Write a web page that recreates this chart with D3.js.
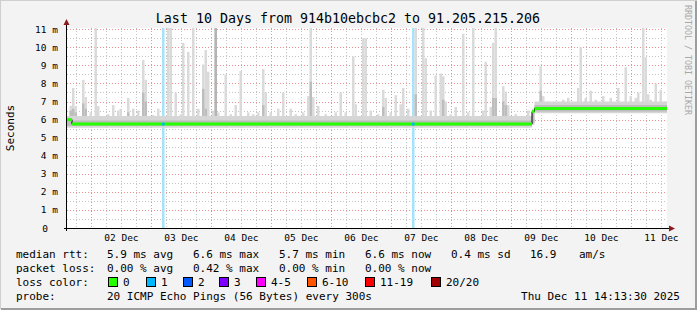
<!DOCTYPE html>
<html>
<head>
<meta charset="utf-8">
<script src="https://cdn.jsdelivr.net/npm/d3@7"></script>
<style>
  body { margin: 0; background: #f3f3f3; }
  text { font-family: "DejaVu Sans Mono", monospace; }
</style>
</head>
<body>
<script>
//==========================================================================//
//  DATA
//==========================================================================//

// time window (1 hour per slot, 240 slots)
var startTime = Date.UTC(2025, 11, 1, 14, 13, 30);
var endTime = Date.UTC(2025, 11, 11, 14, 13, 30);

// smoke spikes: [slot, max ms, darker part up to (0 = none)]
var spikes = [
  [1, 6.76, 6.5], [2, 7.75, 6.6], [3, 6.75, 6.4], [6, 8.2, 6.9], [7, 7.25, 6.6],
  [9, 6.4, 0], [11, 11.1, 0], [12, 6.75, 0], [14, 6.2, 0], [16, 6.3, 0],
  [18, 6.8, 0], [20, 6.5, 0], [21, 6.6, 0], [24, 7.2, 6.4], [26, 6.6, 0],
  [28, 6.5, 0], [30, 9.3, 7.5], [31, 8.2, 7.0], [34, 6.25, 0], [36, 6.6, 0],
  [40, 11.1, 0], [41, 11.1, 0], [43, 7.5, 0], [45, 6.3, 0], [46, 10.25, 0],
  [48, 9.75, 0], [50, 11.1, 0], [52, 6.6, 0], [54, 9.05, 7.7], [55, 9.85, 6.6],
  [56, 8.65, 0], [58, 6.5, 0], [59, 11.1, 11.1], [60, 6.4, 0], [63, 8.5, 0],
  [65, 6.3, 0], [67, 6.8, 0], [69, 8.7, 0], [72, 6.4, 0], [74, 6.3, 0],
  [76, 6.4, 0], [78, 8.8, 6.8], [79, 7.5, 0], [81, 6.4, 0], [84, 6.6, 0],
  [86, 7.5, 0], [89, 6.6, 0], [91, 6.3, 0], [94, 6.4, 0], [96, 7.3, 0],
  [97, 11.1, 8.1], [98, 7.25, 0], [100, 6.75, 0], [103, 6.3, 0], [107, 6.4, 0],
  [109, 7.5, 0], [111, 6.4, 0], [114, 9.5, 0], [115, 6.85, 0], [118, 10.5, 0],
  [119, 10.5, 0], [121, 6.5, 0], [124, 6.3, 0], [126, 7.65, 6.7], [127, 7.2, 0],
  [129, 6.4, 0], [131, 7.35, 0], [133, 6.85, 0], [134, 7.75, 0], [136, 6.6, 0],
  [139, 11.1, 7.4], [142, 11.1, 0], [143, 9.4, 0], [145, 6.5, 0], [147, 8.45, 0],
  [149, 8.55, 0], [150, 8.4, 7.1], [151, 7.0, 0], [153, 6.3, 0], [155, 6.7, 0],
  [158, 10.75, 0], [160, 6.4, 0], [162, 11.1, 0], [164, 6.1, 0], [166, 6.5, 0],
  [167, 9.2, 0], [169, 6.7, 0], [170, 10.25, 7.2], [171, 11.1, 7.2], [174, 7.85, 7.0],
  [175, 7.55, 6.8], [176, 6.8, 0], [179, 6.3, 0], [184, 6.5, 0], [189, 8.95, 7.6],
  [190, 7.3, 0], [192, 7.0, 0], [195, 7.0, 0], [198, 7.1, 0], [200, 7.2, 0],
  [204, 7.75, 0], [205, 10.0, 0], [207, 7.2, 7.0], [209, 7.6, 0], [211, 7.1, 0],
  [214, 7.3, 0], [217, 7.2, 0], [220, 7.75, 0], [223, 8.9, 0], [225, 7.3, 0],
  [227, 7.2, 0], [228, 7.5, 0], [230, 11.1, 0], [231, 9.45, 0], [232, 7.4, 0],
  [233, 7.1, 0], [235, 8.0, 0], [237, 7.65, 0], [239, 7.0, 0]
];

// smoke band around median: [from slot, to slot, lo, hi, dark lo, dark hi]
var bands = [
  [0, 186, 5.55, 6.2, 5.65, 5.95],
  [186, 187, 5.7, 6.6, 5.8, 6.5],
  [187, 240, 6.35, 7.0, 6.45, 6.8]
];

// median rtt steps: [from slot, to slot, ms]
var medians = [
  [0, 2, 6.0],
  [2, 186, 5.75],
  [186, 187, 6.45],
  [187, 240, 6.62]
];

// slots with 1/20 loss
var lossSlots = [38, 138];

// legend
var legendRows = [
  ["median rtt:", "5.9 ms avg", "6.6 ms max", "5.7 ms min", "6.6 ms now", "0.4 ms sd", "16.9", "am/s"],
  ["packet loss:", "0.00 % avg", "0.42 % max", "0.00 % min", "0.00 % now"]
];
var legendCols = [16, 107, 193, 279, 365, 451, 530, 579];
var lossLabels = ["0", "1", "2", "3", "4-5", "6-10", "11-19", "20/20"];
var lossColors = ["#26ff00", "#00b8ff", "#0059ff", "#7e00ff", "#ff00ff", "#ff5500", "#ff0000", "#a10000"];
var lossBoxX = [108, 146, 183, 219, 256, 307, 365, 431];

//==========================================================================//
//  SETUP
//==========================================================================//

var W = 697, H = 310;
var plot = {left: 67, right: 667, top: 28, bottom: 228};

var svg = d3.select("body")
    .append("svg")
    .attr("width", W)
    .attr("height", H);

// canvas + frame
svg.append("rect").attr("width", W).attr("height", H).attr("fill", "#f3f3f3");
svg.append("path").attr("d", "M0,309 V0 H697").attr("fill", "none").attr("stroke", "#cfcfcf").attr("stroke-width", 2);
svg.append("path").attr("d", "M1,309 H696 V1").attr("fill", "none").attr("stroke", "#9d9d9d").attr("stroke-width", 2);

var x = d3.scaleUtc()
    .domain([startTime, endTime])
    .range([plot.left, plot.right]);

var y = d3.scaleLinear()
    .domain([0, 11.07])
    .range([plot.bottom, plot.top]);

function slotX(s) { return x(startTime + s * 3600e3); }

// lower edge of the smoke for a slot (taken from the band it sits in)
function slotBase(s) {
    var b = bands.find(function(d) { return s >= d[0] && s < d[1]; });
    return b ? b[2] : 5.55;
}

// plot background
svg.append("rect")
    .attr("x", plot.left).attr("y", plot.top)
    .attr("width", plot.right - plot.left).attr("height", plot.bottom - plot.top)
    .attr("fill", "#ffffff");

//==========================================================================//
//  GRID
//==========================================================================//

var minorX = d3.utcHour.every(6).range(new Date(startTime), new Date(endTime));
var majorX = d3.utcDay.range(new Date(startTime), new Date(endTime));

svg.append("g").selectAll("line")
    .data(minorX)
    .join("line")
    .attr("x1", function(d) { return Math.round(x(d)) + 0.5; })
    .attr("x2", function(d) { return Math.round(x(d)) + 0.5; })
    .attr("y1", plot.top).attr("y2", plot.bottom)
    .attr("stroke", "#c4c4c4")
    .attr("stroke-dasharray", "1,2");

svg.append("g").selectAll("line")
    .data(y.ticks(22))
    .join("line")
    .attr("x1", plot.left).attr("x2", plot.right)
    .attr("y1", function(d) { return Math.round(y(d)) + 0.5; })
    .attr("y2", function(d) { return Math.round(y(d)) + 0.5; })
    .attr("stroke", "#c4c4c4")
    .attr("stroke-dasharray", "1,2");

svg.append("g").selectAll("line")
    .data(majorX)
    .join("line")
    .attr("x1", function(d) { return Math.round(x(d)) + 0.5; })
    .attr("x2", function(d) { return Math.round(x(d)) + 0.5; })
    .attr("y1", plot.top).attr("y2", plot.bottom)
    .attr("stroke", "#f09090")
    .attr("stroke-dasharray", "1,2");

svg.append("g").selectAll("line")
    .data(y.ticks(11))
    .join("line")
    .attr("x1", plot.left).attr("x2", plot.right)
    .attr("y1", function(d) { return Math.round(y(d)) + 0.5; })
    .attr("y2", function(d) { return Math.round(y(d)) + 0.5; })
    .attr("stroke", "#f09090")
    .attr("stroke-dasharray", "1,2");

//==========================================================================//
//  LOSS BACKGROUND + SMOKE
//==========================================================================//

svg.append("g").selectAll("rect")
    .data(lossSlots)
    .join("rect")
    .attr("x", function(d) { return slotX(d); })
    .attr("width", function(d) { return slotX(d + 1) - slotX(d); })
    .attr("y", plot.top)
    .attr("height", plot.bottom - plot.top)
    .attr("fill", "#a6e2fa");

// light part of spikes
svg.append("g").selectAll("rect")
    .data(spikes)
    .join("rect")
    .attr("x", function(d) { return slotX(d[0]); })
    .attr("width", function(d) { return slotX(d[0] + 1) - slotX(d[0]); })
    .attr("y", function(d) { return y(Math.min(d[1], 11.07)); })
    .attr("height", function(d) { return y(slotBase(d[0]) + 0.05) - y(Math.min(d[1], 11.07)); })
    .attr("fill", "#dadada");

// darker part of spikes
svg.append("g").selectAll("rect")
    .data(spikes.filter(function(d) { return d[2] > 0; }))
    .join("rect")
    .attr("x", function(d) { return slotX(d[0]); })
    .attr("width", function(d) { return slotX(d[0] + 1) - slotX(d[0]); })
    .attr("y", function(d) { return y(Math.min(d[2], 11.07)); })
    .attr("height", function(d) { return y(slotBase(d[0]) + 0.15) - y(Math.min(d[2], 11.07)); })
    .attr("fill", function(d) { return d[2] > 11 ? "#b4b4b4" : "#bdbdbd"; });

// band
svg.append("g").selectAll("rect")
    .data(bands)
    .join("rect")
    .attr("x", function(d) { return slotX(d[0]); })
    .attr("width", function(d) { return slotX(d[1]) - slotX(d[0]); })
    .attr("y", function(d) { return y(d[3]); })
    .attr("height", function(d) { return y(d[2]) - y(d[3]); })
    .attr("fill", "#d6d6d6");
svg.append("g").selectAll("rect")
    .data(bands)
    .join("rect")
    .attr("x", function(d) { return slotX(d[0]); })
    .attr("width", function(d) { return slotX(d[1]) - slotX(d[0]); })
    .attr("y", function(d) { return y(d[5]); })
    .attr("height", function(d) { return y(d[4]) - y(d[5]); })
    .attr("fill", "#bcbcbc");

//==========================================================================//
//  MEDIAN
//==========================================================================//

var medPts = [];
medians.forEach(function(m) {
    medPts.push([slotX(m[0]), y(m[2])]);
    medPts.push([slotX(m[1]), y(m[2])]);
});
svg.append("path")
    .attr("d", d3.line()(medPts))
    .attr("fill", "none")
    .attr("stroke", "#000")
    .attr("stroke-width", 1);

svg.append("g").selectAll("line")
    .data(medians)
    .join("line")
    .attr("x1", function(d) { return slotX(d[0]); })
    .attr("x2", function(d) { return slotX(d[1]); })
    .attr("y1", function(d) { return y(d[2]); })
    .attr("y2", function(d) { return y(d[2]); })
    .attr("stroke", "#26ff00")
    .attr("stroke-width", 3);

// loss coloured median pieces
svg.append("g").selectAll("line")
    .data(lossSlots)
    .join("line")
    .attr("x1", function(d) { return slotX(d); })
    .attr("x2", function(d) { return slotX(d + 1); })
    .attr("y1", y(5.75)).attr("y2", y(5.75))
    .attr("stroke", "#00b8ff")
    .attr("stroke-width", 3);

//==========================================================================//
//  AXES
//==========================================================================//

svg.append("line")
    .attr("x1", plot.left - 0.5).attr("x2", plot.left - 0.5)
    .attr("y1", plot.bottom + 3).attr("y2", plot.top - 4)
    .attr("stroke", "#000");
svg.append("line")
    .attr("x1", plot.left - 3).attr("x2", plot.right + 3)
    .attr("y1", plot.bottom + 0.5).attr("y2", plot.bottom + 0.5)
    .attr("stroke", "#000");
svg.append("path")
    .attr("d", "M" + (plot.left - 3.5) + "," + (plot.top - 3) + " L" + (plot.left + 2.5) + "," + (plot.top - 3) + " L" + (plot.left - 0.5) + "," + (plot.top - 9) + "Z")
    .attr("fill", "#8b1a1a");
svg.append("path")
    .attr("d", "M" + (plot.right + 2) + "," + (plot.bottom - 2.5) + " L" + (plot.right + 2) + "," + (plot.bottom + 3.5) + " L" + (plot.right + 8) + "," + (plot.bottom + 0.5) + "Z")
    .attr("fill", "#8b1a1a");

// y tick labels
svg.append("g").selectAll("text")
    .data(y.ticks(11))
    .join("text")
    .attr("x", function(d) { return d === 0 ? 48 : 58; })
    .attr("y", function(d) { return y(d) + 3.5; })
    .attr("text-anchor", "end")
    .attr("font-size", "9.5px")
    .attr("fill", "#000")
    .text(function(d) { return d === 0 ? "0" : d + " m"; });

// x tick labels at noon
var dayLabels = d3.utcDay.range(new Date(startTime), new Date(endTime)).map(function(d) {
    return d3.utcHour.offset(d, 12);
}).filter(function(d) { return +d < endTime; });

svg.append("g").selectAll("text")
    .data(dayLabels)
    .join("text")
    .attr("x", function(d) { return x(d); })
    .attr("y", 241)
    .attr("text-anchor", "middle")
    .attr("font-size", "9.5px")
    .attr("fill", "#000")
    .text(d3.utcFormat("%d %b"));

//==========================================================================//
//  TITLES
//==========================================================================//

svg.append("text")
    .attr("x", 348).attr("y", 23)
    .attr("text-anchor", "middle")
    .attr("font-size", "13.3px")
    .text("Last 10 Days from 914b10ebcbc2 to 91.205.215.206");

svg.append("text")
    .attr("transform", "translate(14,128) rotate(-90)")
    .attr("text-anchor", "middle")
    .attr("font-size", "11px")
    .text("Seconds");

svg.append("text")
    .attr("transform", "translate(685,5) rotate(90)")
    .attr("font-size", "8.3px")
    .attr("fill", "#a8a8a8")
    .text("RRDTOOL / TOBI OETIKER");

//==========================================================================//
//  LEGEND
//==========================================================================//

var rowY = [258, 272, 286, 300];

legendRows.forEach(function(row, r) {
    svg.append("g").selectAll("text")
        .data(row)
        .join("text")
        .attr("x", function(d, i) { return legendCols[i]; })
        .attr("y", rowY[r])
        .attr("font-size", "11px")
        .text(function(d) { return d; });
});

svg.append("text").attr("x", 16).attr("y", rowY[2]).attr("font-size", "11px").text("loss color:");
svg.append("g").selectAll("rect")
    .data(lossColors)
    .join("rect")
    .attr("x", function(d, i) { return lossBoxX[i] + 0.5; })
    .attr("y", rowY[2] - 8.5)
    .attr("width", 9).attr("height", 9)
    .attr("fill", function(d) { return d; })
    .attr("stroke", "#000");
svg.append("g").selectAll("text")
    .data(lossLabels)
    .join("text")
    .attr("x", function(d, i) { return lossBoxX[i] + 15; })
    .attr("y", rowY[2])
    .attr("font-size", "11px")
    .text(function(d) { return d; });

svg.append("text").attr("x", 16).attr("y", rowY[3]).attr("font-size", "11px").text("probe:");
svg.append("text").attr("x", 107).attr("y", rowY[3]).attr("font-size", "11px").text("20 ICMP Echo Pings (56 Bytes) every 300s");
svg.append("text").attr("x", 680).attr("y", rowY[3]).attr("text-anchor", "end").attr("font-size", "11px").text("Thu Dec 11 14:13:30 2025");
</script>
</body>
</html>
